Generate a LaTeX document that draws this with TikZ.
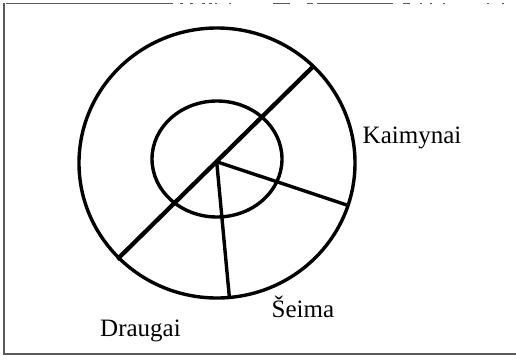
\documentclass[tikz,border=0pt]{standalone}
\usepackage{fontspec}
\setmainfont{Liberation Serif}
\begin{document}
\begin{tikzpicture}[x=1pt,y=-1pt,
  ring/.style={draw=black,line width=3.4pt},
  spoke/.style={draw=black,line width=3.4pt},
  diag/.style={draw=black,line width=4.3pt},
  frame/.style={draw=black!65,line width=1.3pt},
  lbl/.style={anchor=base west,inner sep=0pt,font=\fontsize{25}{29}\selectfont}]
\useasboundingbox (0,0) rectangle (516,359);
% frame
\draw[frame] (4,3) -- (4,354) -- (516,354);
\draw[frame,line width=0.9pt] (6,3) -- (145,3);
\foreach \a/\b in {145/173,180/183,190/193,202/205,209/212,215/217,229/231,273/290,307/313,317/393,403/410,420/422,430/432,443/445,487/489,502/504}
  \draw[frame,line width=0.9pt] (\a,3) -- (\b,3);
% circles
\coordinate (c) at (216.7,161.7);
\draw[ring] (217,163) ellipse [x radius=138, y radius=135];
\draw[ring] (217,159) ellipse [x radius=65, y radius=58];
% spokes
\coordinate (ur) at (312.3,67.3);
\coordinate (ll) at (117.3,259.3);
\coordinate (r) at (346.7,205);
\coordinate (d) at (229.3,296.7);
\draw[diag,line cap=butt] (ur) -- (ll);
\draw[spoke] (c) -- (r);
\draw[spoke] (c) -- (d);
% labels
\node[lbl] (k) at (362.5,143.5) {Kaimynai};
\node[lbl] (s) at (271.5,317) {Šeima};
\node[lbl] (dr) at (100,336) {Draugai};
\end{tikzpicture}
\end{document}
